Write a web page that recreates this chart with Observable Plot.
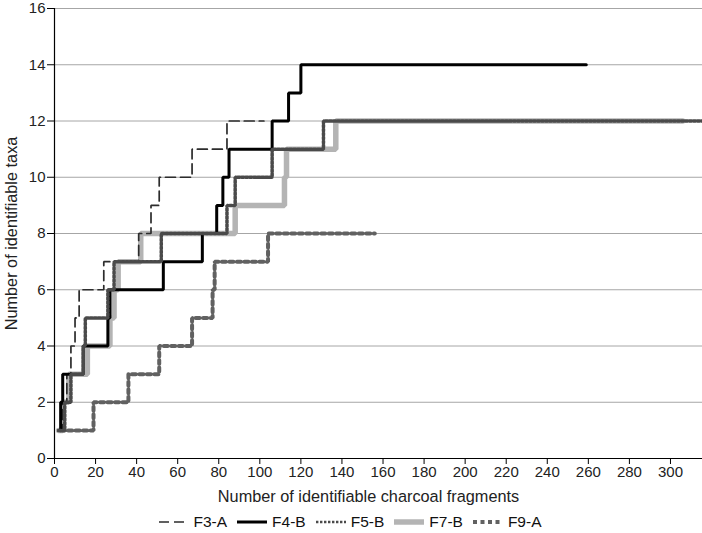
<!DOCTYPE html>
<html>
<head>
<meta charset="utf-8">
<script src="https://cdn.jsdelivr.net/npm/d3@7"></script>
<script src="https://cdn.jsdelivr.net/npm/@observablehq/plot@0.6"></script>
<style>
  html, body { margin: 0; padding: 0; background: #fff; }
  body { width: 702px; height: 533px; overflow: hidden; font-family: "Liberation Sans", Arial, sans-serif; }
  #legend { display: flex; justify-content: center; align-items: center; height: 23px; font-size: 15.5px; color: #111; margin-left: -2px; }
  #legend .item { display: flex; align-items: center; margin: 0 5px; }
  #legend svg { margin-right: 5px; }
</style>
</head>
<body>
<div id="chart"></div>
<div id="legend"></div>
<script>
const seriesNames = ["F3-A", "F4-B", "F5-B", "F7-B", "F9-A"];
const xTicks = [0, 20, 40, 60, 80, 100, 120, 140, 160, 180, 200, 220, 240, 260, 280, 300];
const yTicks = [0, 2, 4, 6, 8, 10, 12, 14, 16];

const f3aX = [2, 4, 6, 8, 10, 12, 24, 41, 47, 51, 67, 84, 102];
const f3aY = [1, 2, 3, 4, 5, 6, 7, 8, 9, 10, 11, 12, 12];
const f4bX = [2, 3, 4, 14, 26, 27, 53, 72, 79, 82, 85, 106, 114, 120, 259];
const f4bY = [1, 2, 3, 4, 5, 6, 7, 8, 9, 10, 11, 12, 13, 14, 14];
const f5bX = [2, 5, 8, 14, 15, 26, 29, 52, 84, 88, 106, 131, 316];
const f5bY = [1, 2, 3, 4, 5, 6, 7, 8, 9, 10, 11, 12, 12];
const f7bX = [2, 4, 7, 16, 27, 29, 31, 42, 88, 112, 113, 137, 306];
const f7bY = [1, 2, 3, 4, 5, 6, 7, 8, 9, 10, 11, 12, 12];
const f9aX = [3, 19, 36, 51, 67, 77, 78, 104, 156];
const f9aY = [1, 2, 3, 4, 5, 6, 7, 8, 8];

const styles = {
  "F3-A": {stroke: "#2c2c2c", strokeWidth: 1.7, strokeDasharray: "10,5"},
  "F4-B": {stroke: "#000000", strokeWidth: 3},
  "F5-B": {stroke: "#4a4a4a", strokeWidth: 3.5, strokeDasharray: "2.4,1.6"},
  "F7-B": {stroke: "#b4b4b4", strokeWidth: 5.5},
  "F9-A": {stroke: "#616161", strokeWidth: 4, strokeDasharray: "4,3.5"}
};

const xs = {"F3-A": f3aX, "F4-B": f4bX, "F5-B": f5bX, "F7-B": f7bX, "F9-A": f9aX};
const ys = {"F3-A": f3aY, "F4-B": f4bY, "F5-B": f5bY, "F7-B": f7bY, "F9-A": f9aY};
const table = seriesNames.flatMap(s => xs[s].map((x, i) => ({series: s, x, y: ys[s][i]})));

const drawOrder = ["F7-B", "F9-A", "F3-A", "F4-B", "F5-B"];

const plot = Plot.plot({
  width: 702,
  height: 510,
  marginTop: 8,
  marginBottom: 52,
  marginLeft: 54,
  marginRight: 0,
  style: {fontFamily: '"Liberation Sans", Arial, sans-serif', fontSize: "15px", color: "#222", background: "#fff", overflow: "visible"},
  x: {domain: [0, 315.6]},
  y: {domain: [0, 16]},
  marks: [
    Plot.ruleY(yTicks.filter(d => d > 0), {stroke: "#a6a6a6", strokeWidth: 1}),
    ...drawOrder.map(s => Plot.line(table.filter(d => d.series === s), {x: "x", y: "y", curve: "step-after", strokeLinejoin: "miter", ...styles[s]})),
    Plot.ruleY([0], {stroke: "#000", strokeWidth: 1.2}),
    Plot.ruleX([0], {stroke: "#000", strokeWidth: 1.2}),
    Plot.axisX({ticks: xTicks, tickSize: 6, tickPadding: 2, label: null, stroke: "#000", fill: "#222"}),
    Plot.axisY({ticks: yTicks, tickSize: 7, tickPadding: 2, label: null, stroke: "#000", fill: "#222"}),
    Plot.text(["Number of identifiable charcoal fragments"], {frameAnchor: "bottom", dy: 38, dx: -10, lineAnchor: "middle", textAnchor: "middle", fontSize: 16.3, fill: "#222"}),
    Plot.text(["Number of identifiable taxa"], {frameAnchor: "left", dx: -43, rotate: -90, lineAnchor: "middle", textAnchor: "middle", fontSize: 16.3, fill: "#222"})
  ]
});
document.getElementById("chart").appendChild(plot);

const legend = document.getElementById("legend");
for (const s of seriesNames) {
  const st = styles[s];
  const item = document.createElement("div");
  item.className = "item";
  const w = s === "F5-B" ? 2.4 : st.strokeWidth;
  item.innerHTML = `<svg width="30" height="10"><line x1="0" x2="30" y1="5" y2="5" stroke="${st.stroke}" stroke-width="${w}" ${st.strokeDasharray ? `stroke-dasharray="${st.strokeDasharray}"` : ""}/></svg><span>${s}</span>`;
  legend.appendChild(item);
}
</script>
</body>
</html>
